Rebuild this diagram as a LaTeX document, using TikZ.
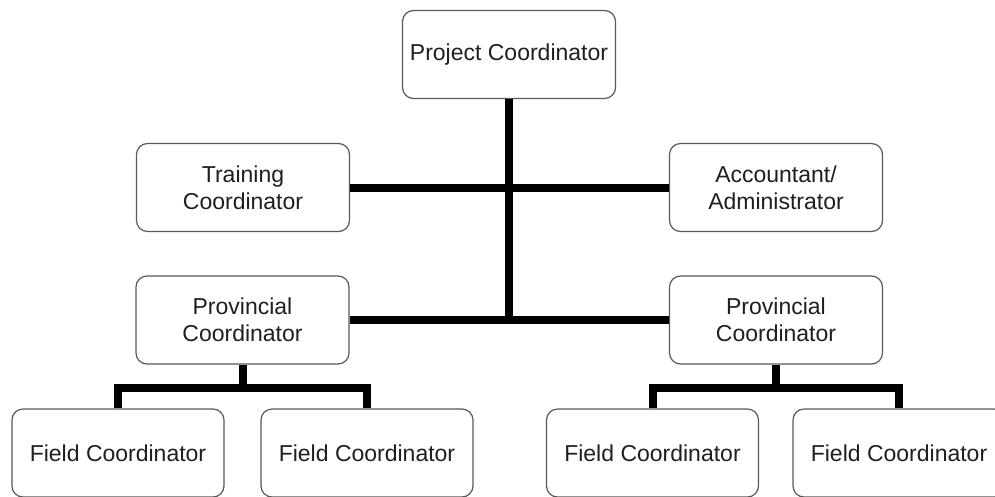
\documentclass[tikz,border=0pt]{standalone}
\usepackage{fontspec}
\setmainfont{Liberation Sans}
\begin{document}
\begin{tikzpicture}[x=1pt,y=-1pt,
  box/.style={draw=black!65,line width=1.2pt,rounded corners=11pt,
    minimum width=213pt,minimum height=88pt,align=center,inner sep=0pt,
    font=\fontsize{23}{27}\selectfont,text=black!88,fill=white},
  link/.style={line width=8pt,line join=miter}]
\useasboundingbox (0,0) rectangle (995,496);
\clip (0,0) rectangle (995,496);
\node[box] (pc) at (509,54.5) {Project Coordinator};
\node[box] (tc) at (243,187.5) {Training\\Coordinator};
\node[box] (aa) at (776,187.5) {Accountant/\\Administrator};
\node[box] (pl) at (242.5,320) {Provincial\\Coordinator};
\node[box] (pr) at (776,320) {Provincial\\Coordinator};
\node[box,minimum width=212pt] (f1) at (118,453) {Field Coordinator};
\node[box,minimum width=212pt] (f2) at (367,453) {Field Coordinator};
\node[box,minimum width=212pt] (f3) at (652.5,453) {Field Coordinator};
\node[box,minimum width=212pt] (f4) at (899,453) {Field Coordinator};
\coordinate (tj) at (pc.south |- pl.east);
\coordinate (jl) at (pl.south |- 0,388);
\coordinate (jr) at (pr.south |- 0,388);
\draw[link] (pc.south) -- (tj);
\draw[link] (tc.east) -- (aa.west);
\draw[link] (pl.east) -- (pr.west);
\draw[link] (pl.south) -- (jl);
\draw[link] (f1.north) |- (jl) -| (f2.north);
\draw[link] (pr.south) -- (jr);
\draw[link] (f3.north) |- (jr) -| (f4.north);
\end{tikzpicture}
\end{document}
